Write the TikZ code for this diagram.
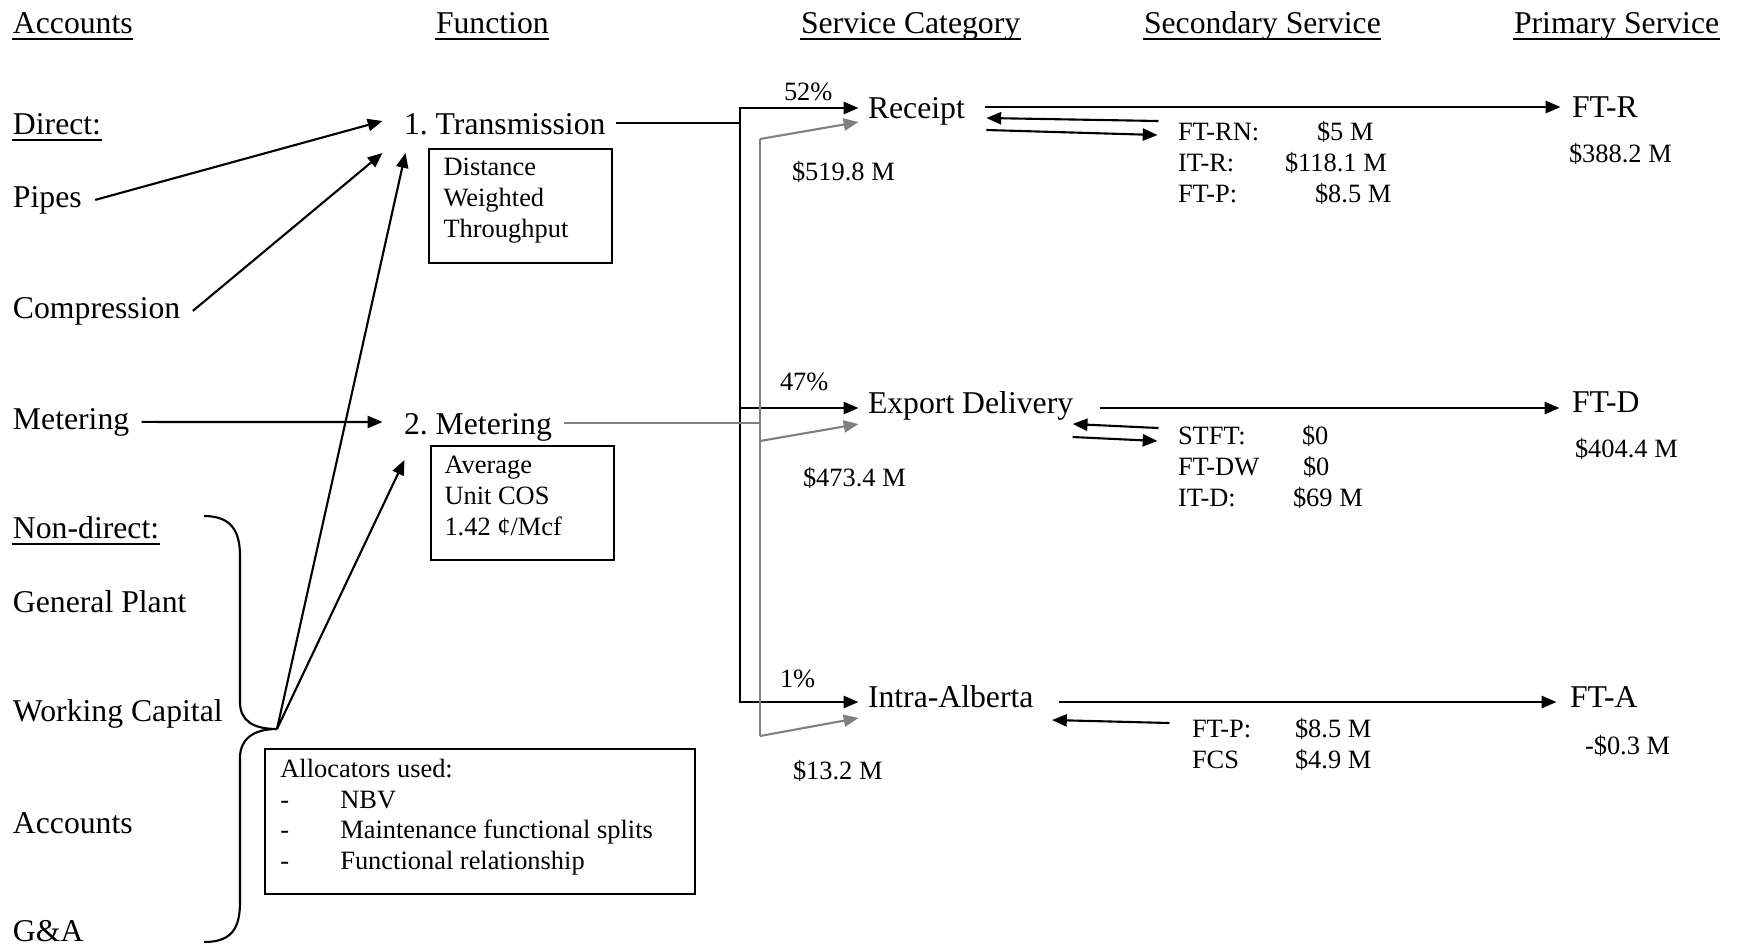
\documentclass[tikz,border=0pt]{standalone}
\usepackage{fontspec}
\setmainfont{Liberation Serif}
\usepackage{tikz}
\usetikzlibrary{arrows.meta,positioning,calc}
\newcommand{\dashitem}[1]{\makebox[22.7pt][l]{-}#1}

\begin{document}
\begin{tikzpicture}[
  x=0.3785pt,y=-0.3785pt,
  txt/.style={inner sep=0pt,anchor=text,font=\fontsize{12}{14}\selectfont},
  sml/.style={txt,font=\fontsize{10}{11}\selectfont},
  boxframe/.style={draw,line width=0.8pt,anchor=north west,inner sep=0pt,minimum width=69.3pt,minimum height=43.2pt},
  boxtext/.style={sml,align=left,anchor=north west,font=\fontsize{10}{11.8}\selectfont},
  ln/.style={line width=0.8pt},
  arr/.style={ln,-{Triangle[length=5.6pt,width=4.6pt]}},
  gln/.style={ln,draw=gray},
  garr/.style={arr,draw=gray},
  uln/.style={line width=0.6pt}
]
\useasboundingbox (0,0) rectangle (1742,946);

% column heads
\node[txt] (hacc) at (13,33) {Accounts};
\node[txt] (hfun) at (436,33) {Function};
\node[txt] (hcat) at (801,33) {Service Category};
\node[txt] (hsec) at (1144,33) {Secondary Service};
\node[txt] (hpri) at (1514,33) {Primary Service};

% accounts
\node[txt] (direct) at (13,134) {Direct:};
\node[txt] (pipes) at (13,207) {Pipes};
\node[txt] (comp) at (13,318) {Compression};
\node[txt] (ameter) at (13,429) {Metering};
\node[txt] (nondirect) at (13,538) {Non-direct:};
\node[txt] (gplant) at (13,612) {General Plant};
\node[txt] (wcap) at (13,721) {Working Capital};
\node[txt] (accts) at (13,833) {Accounts};
\node[txt] (ga) at (13,941) {G\&A};
\foreach \n in {hacc,hfun,hcat,hsec,hpri,direct,nondirect}
  \draw[uln] ($(\n.base west)+(0,6)$) -- ($(\n.base east)+(0,6)$);

% brace over the non-direct accounts
\coordinate (bracetip) at (277,729);
\draw[ln] (204,516) .. controls (232,516) and (240,532) .. (240,556) -- (240,702)
  .. controls (240,720) and (252,729) .. (bracetip)
  .. controls (252,729) and (240,740) .. (240,758) -- (240,902)
  .. controls (240,928) and (232,942) .. (204,942);

% functions
\node[txt] (trans) at (404,134) {1.\ Transmission};
\node[boxframe] (tbox) at (428,148) {};
\node[boxtext,below right=3.4pt and 5.7pt of tbox.north west] (ttxt) {Distance\\Weighted\\Throughput};
\node[txt] (fmeter) at (404,434) {2.\ Metering};
\node[boxframe] (mbox) at (430,445) {};
\node[boxtext,below right=3.8pt and 5.3pt of mbox.north west] (mtxt) {Average\\Unit COS\\1.42 ¢/Mcf};
\node[boxframe,minimum width=162.8pt,minimum height=54.9pt] (abox) at (264,748) {};
\node[boxtext,font=\fontsize{10}{11.5}\selectfont,below right=4.2pt and 6pt of abox.north west] (atxt)
  {Allocators used:\\\dashitem{NBV}\\\dashitem{Maintenance functional splits}\\\dashitem{Functional relationship}};

\draw[arr] ($(pipes.east)+(13,0)$) -- ($(trans.base west)+(-21,-13)$);
\draw[arr] ($(comp.east)+(12,0)$) -- ($(trans.base west)+(-21,19)$);
\draw[arr] ($(ameter.east)+(12,0)$) -- ($(fmeter.base west)+(-21,-12)$);
\draw[arr] (bracetip) -- ($(trans.base west)+(2,19)$);
\draw[arr] (bracetip) -- ($(fmeter.base west)+(1,26)$);

% service categories
\node[sml] (p52) at (784,100) {52\%};
\node[txt] (receipt) at (868,118) {Receipt};
\node[sml] (v52) at (792,180) {\$519.8 M};
\node[sml] (p47) at (780,390) {47\%};
\node[txt] (export) at (868,413) {Export Delivery};
\node[sml] (v47) at (803,486) {\$473.4 M};
\node[sml] (p1) at (780,687) {1\%};
\node[txt] (intra) at (868,707) {Intra-Alberta};
\node[sml] (v1) at (793,779) {\$13.2 M};

% transmission split (black)
\coordinate (blk) at (740,123);
\draw[ln] ($(trans.base east)+(10,-11)$) -- (blk);
\draw[arr] (blk) |- ($(receipt.base west)+(-9,-10)$);
\draw[arr] (blk) |- ($(export.base west)+(-9,-5)$);
\draw[arr] (blk) |- ($(intra.base west)+(-9,-5)$);

% metering split (gray)
\coordinate (gry) at (760,423);
\coordinate (g1) at (760,139);
\coordinate (g2) at (760,441);
\coordinate (g3) at (760,736);
\draw[gln] ($(fmeter.base east)+(12,-11)$) -- (gry);
\draw[gln] (g1) -- (g3);
\draw[garr] (g1) -- ($(receipt.base west)+(-9,4)$);
\draw[garr] (g2) -- ($(export.base west)+(-9,11)$);
\draw[garr] (g3) -- ($(intra.base west)+(-9,11)$);

% secondary services
\node[sml] (ftrn) at (1178,140) {FT-RN:};
\node[sml] (ftrnv) at (1317,140) {\$5 M};
\node[sml] (itr) at (1178,171) {IT-R:};
\node[sml] (itrv) at (1285,171) {\$118.1 M};
\node[sml] (ftp) at (1178,202) {FT-P:};
\node[sml] (ftpv) at (1315,202) {\$8.5 M};
\node[sml] (stft) at (1178,444) {STFT:};
\node[sml] (stftv) at (1302,444) {\$0};
\node[sml] (ftdw) at (1178,475) {FT-DW};
\node[sml] (ftdwv) at (1303,475) {\$0};
\node[sml] (itd) at (1178,506) {IT-D:};
\node[sml] (itdv) at (1293,506) {\$69 M};
\node[sml] (ftpa) at (1192,737) {FT-P:};
\node[sml] (ftpav) at (1295,737) {\$8.5 M};
\node[sml] (fcs) at (1192,768) {FCS};
\node[sml] (fcsv) at (1295,768) {\$4.9 M};

% primary services
\node[txt] (ftr) at (1572,117) {FT-R};
\node[sml] (ftrv) at (1569,162) {\$388.2 M};
\node[txt] (ftd) at (1572,412) {FT-D};
\node[sml] (ftdv) at (1575,457) {\$404.4 M};
\node[txt] (fta) at (1570,707) {FT-A};
\node[sml] (ftav) at (1585,754) {-\$0.3 M};

\draw[arr] ($(receipt.base east)+(20,-11)$) -- ($(ftr.base west)+(-11,-10)$);
\draw[arr] ($(ftrn.base west)+(-19,-19)$) -- ($(receipt.base east)+(21,0)$);
\draw[arr] ($(receipt.base east)+(21,12)$) -- ($(ftrn.base west)+(-20,-5)$);
\draw[arr] ($(export.base east)+(26,-5)$) -- ($(ftd.base west)+(-12,-4)$);
\draw[arr] ($(stft.base west)+(-19,-16)$) -- ($(export.base east)+(-1,11)$);
\draw[arr] ($(export.base east)+(-1,24)$) -- ($(stft.base west)+(-20,-3)$);
\draw[arr] ($(intra.base east)+(25,-5)$) -- ($(fta.base west)+(-13,-5)$);
\draw[arr] ($(ftpa.base west)+(-22,-14)$) -- ($(intra.base east)+(18,13)$);
\end{tikzpicture}
\end{document}
